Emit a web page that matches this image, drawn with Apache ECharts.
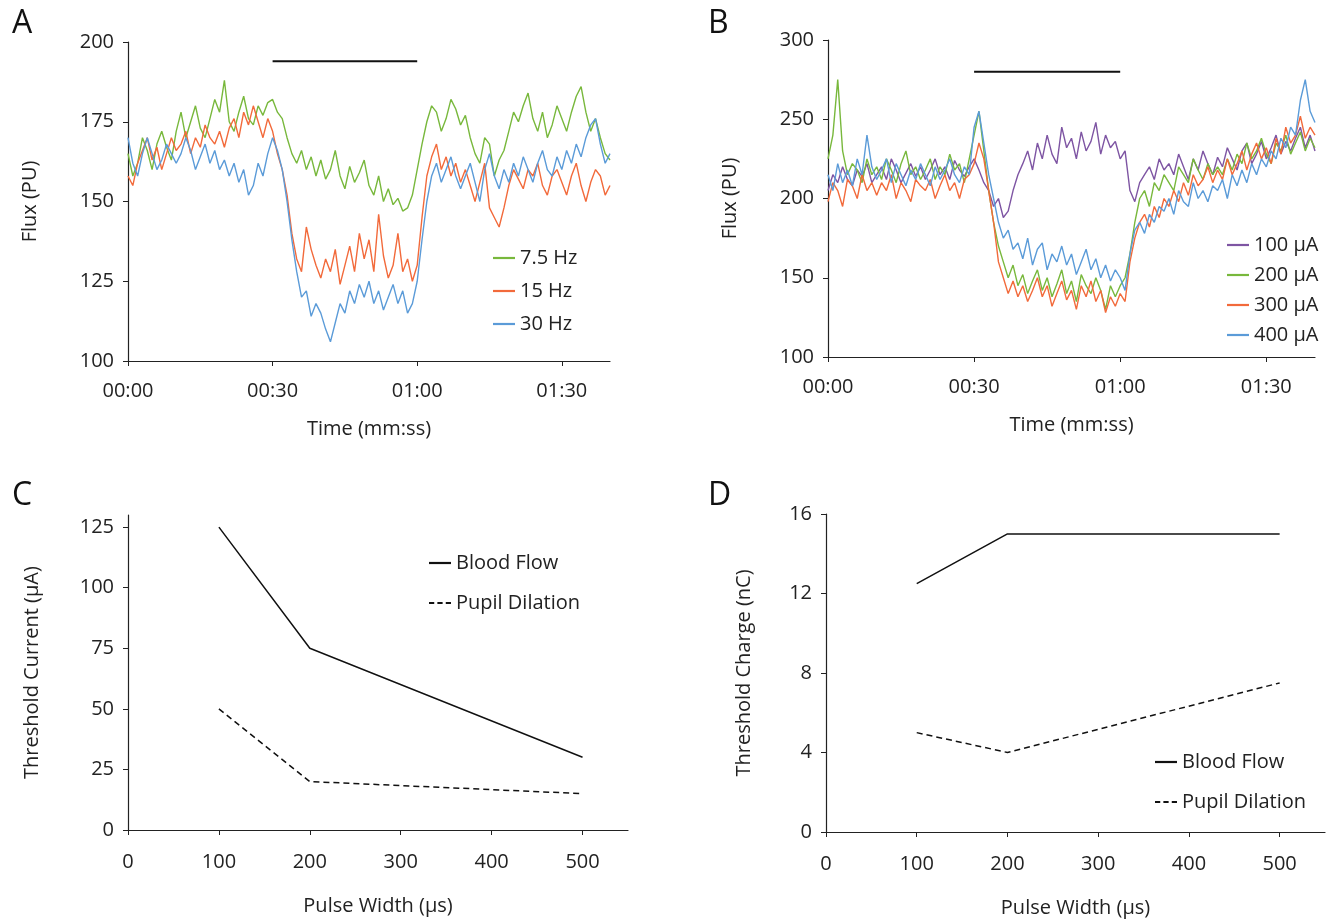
<!DOCTYPE html>
<html><head><meta charset="utf-8">
<script src="https://cdn.jsdelivr.net/npm/echarts@6/dist/echarts.min.js"></script>
<style>html,body{margin:0;background:#fff}#c{width:1341px;height:921px}</style>
</head><body><div id="c"></div>
<script>
// Panel A: flux traces, one sample per second, 0..100 s
const fluxA75 = [165,158,162,170,166,160,168,172,167,163,172,178,170,175,180,173,170,176,182,178,188,175,172,178,183,176,174,180,177,181,182,178,176,170,165,162,166,160,164,158,163,157,160,166,158,154,161,156,159,163,155,152,158,150,154,149,151,147,148,152,160,168,175,180,178,172,176,182,179,174,177,170,165,162,170,168,158,163,166,172,178,175,180,184,176,172,178,170,174,180,176,172,178,183,186,178,172,176,170,165,163];
const fluxA15 = [158,155,162,166,170,163,167,160,165,170,166,168,172,165,170,167,174,170,168,172,167,173,176,170,178,174,180,175,170,176,172,165,160,152,140,132,128,142,135,130,126,132,128,135,124,130,136,128,140,132,138,128,146,133,126,130,140,128,132,125,130,145,158,164,168,160,164,158,162,156,160,155,150,156,162,148,145,142,148,155,160,157,154,160,158,162,155,152,158,160,156,152,158,162,155,150,156,160,158,152,155];
const fluxA30 = [170,162,158,165,170,165,160,163,168,165,162,165,170,166,160,164,168,162,166,160,163,158,162,156,160,152,155,162,158,165,170,166,160,150,138,128,120,122,114,118,115,110,106,112,118,115,122,118,124,120,125,118,122,116,120,124,118,122,115,118,125,138,150,158,162,156,160,164,158,154,158,162,156,150,160,165,158,154,160,156,162,158,164,160,156,162,166,160,158,164,160,166,162,168,164,170,174,176,168,162,165];
// Panel B
const fluxB100 = [205,215,210,220,212,208,218,214,222,210,215,220,212,225,218,210,216,222,214,220,212,218,225,215,220,212,224,218,214,220,225,218,210,205,195,200,188,192,205,215,222,230,218,235,225,240,228,222,245,232,238,225,242,230,236,248,228,240,232,236,225,230,205,198,210,215,220,212,225,218,222,215,228,220,212,225,218,230,222,215,226,220,232,225,218,230,235,222,228,236,225,232,240,228,236,230,238,245,232,240,230];
const fluxB200 = [225,240,275,230,215,222,218,210,225,215,220,212,225,218,210,222,230,215,220,212,218,225,212,220,215,228,218,222,210,225,240,255,230,205,185,170,160,150,158,145,152,140,148,155,142,150,138,146,155,140,148,135,152,145,140,150,142,130,145,138,145,150,165,185,200,205,195,210,205,215,210,205,220,215,210,225,218,212,222,215,220,215,225,218,228,222,235,225,230,238,228,222,235,230,240,228,235,242,230,238,232];
const fluxB300 = [198,210,205,195,212,208,200,215,205,210,202,210,205,215,200,210,205,198,212,208,205,212,200,208,215,205,210,200,212,215,222,235,225,205,185,160,150,140,148,138,145,135,142,150,138,145,132,140,148,136,142,130,145,138,148,135,142,128,138,132,140,135,160,175,185,190,182,195,188,200,195,205,198,210,202,215,208,212,220,210,218,212,225,215,222,230,218,228,235,225,232,222,238,228,245,235,240,252,238,245,240];
const fluxB400 = [215,205,222,210,218,208,225,215,240,220,212,218,225,210,222,215,208,218,212,222,215,208,220,212,218,225,215,210,220,215,245,255,235,215,200,185,175,180,168,172,162,175,158,168,172,155,165,160,170,158,165,152,160,168,155,162,150,158,148,155,150,142,165,180,185,178,190,185,195,192,200,190,205,198,195,210,200,205,198,208,205,212,200,215,208,218,210,222,215,225,220,230,225,238,232,245,240,262,275,255,248];
const stimA = [[30,194],[60,194]];
const stimB = [[30,280],[60,280]];
// Panels C, D
const pulseWidths = [100,200,500];
const currBlood = [125,75,30];
const currPupil = [50,20,15];
const chargeBlood = [12.5,15,15];
const chargePupil = [5,4,7.5];

const pair = (xs, ys) => xs.map((x, i) => [x, ys[i]]);
const timed = ys => ys.map((y, i) => [i, y]);
const mmss = v => { const m = Math.floor(v / 60), s = v % 60; return String(m).padStart(2,'0') + ':' + String(s).padStart(2,'0'); };

const font = { fontFamily: 'Open Sans', fontSize: 20, color: '#222' };
const axLine = { show: true, lineStyle: { color: '#222', width: 1.2 } };
const axTick = { show: true, inside: false, length: 5, lineStyle: { color: '#222' } };

const xTime = i => ({ type: 'value', gridIndex: i, min: 0, max: 100, interval: 30, name: 'Time (mm:ss)', nameLocation: 'middle', nameGap: 58, nameTextStyle: font, axisLine: axLine, axisTick: axTick, splitLine: { show: false }, axisLabel: Object.assign({ formatter: mmss, showMaxLabel: false, margin: 20 }, font) });
const xPulse = i => ({ type: 'value', gridIndex: i, min: 0, max: 550, interval: 100, name: 'Pulse Width (µs)', nameLocation: 'middle', nameGap: 66, nameTextStyle: font, axisLine: axLine, axisTick: axTick, splitLine: { show: false }, axisLabel: Object.assign({ showMaxLabel: false, margin: 22 }, font) });
const yAx = (i, min, max, interval, name, gap, showMax) => ({ type: 'value', gridIndex: i, min, max, interval, name, nameLocation: 'middle', nameGap: gap, nameTextStyle: font, axisLine: axLine, axisTick: axTick, splitLine: { show: false }, axisLabel: Object.assign({ showMaxLabel: showMax, margin: 14 }, font) });

const trace = (name, data, color, xi) => ({ name, type: 'line', xAxisIndex: xi, yAxisIndex: xi, data: timed(data), showSymbol: false, lineStyle: { color, width: 1.4 }, itemStyle: { color } });
const bar = (data, xi) => ({ type: 'line', xAxisIndex: xi, yAxisIndex: xi, data, showSymbol: false, lineStyle: { color: '#111', width: 2 } });
const curve = (name, data, xi, dashed) => ({ name, type: 'line', xAxisIndex: xi, yAxisIndex: xi, data, showSymbol: false, lineStyle: { color: '#111', width: 1.5, type: dashed ? [6, 4] : 'solid' }, itemStyle: { color: '#111' } });

const lineIcon = 'path://M0,0H20V2H0Z';
const dashIcon = 'path://M0,0H5V2H0Z M8,0H13V2H8Z M16,0H21V2H16Z';
const legendBase = { orient: 'vertical', itemWidth: 22, itemHeight: 3, itemGap: 13, textStyle: font, icon: lineIcon };

const panelLabel = (text, left, top) => ({ type: 'text', left, top, style: { text, font: '32px "Open Sans"', fill: '#111' } });

const chart = echarts.init(document.getElementById('c'));
chart.setOption({
  animation: false,
  grid: [
    { left: 128, right: 731, top: 42, bottom: 560 },
    { left: 828, right: 26, top: 40, bottom: 564 },
    { left: 128, right: 713, top: 515, bottom: 91 },
    { left: 826, right: 16, top: 514, bottom: 89 }
  ],
  xAxis: [xTime(0), xTime(1), xPulse(2), xPulse(3)],
  yAxis: [
    yAx(0, 100, 200, 25, 'Flux (PU)', 88, true),
    yAx(1, 100, 300, 50, 'Flux (PU)', 88, true),
    yAx(2, 0, 130, 25, 'Threshold Current (µA)', 86, false),
    yAx(3, 0, 16, 4, 'Threshold Charge (nC)', 72, true)
  ],
  legend: [
    Object.assign({}, legendBase, { data: ['7.5 Hz', '15 Hz', '30 Hz'], left: 488, top: 243 }),
    Object.assign({}, legendBase, { data: ['100 µA', '200 µA', '300 µA', '400 µA'], left: 1222, top: 230, itemGap: 10 }),
    Object.assign({}, legendBase, { data: [{ name: 'Blood Flow', icon: lineIcon }, { name: 'Pupil Dilation', icon: dashIcon }], left: 424, top: 548, itemGap: 20 }),
    Object.assign({}, legendBase, { data: [{ name: 'Blood Flow ', icon: lineIcon }, { name: 'Pupil Dilation ', icon: dashIcon }], left: 1150, top: 747, itemGap: 20 })
  ],
  graphic: [panelLabel('A', 12, 8), panelLabel('B', 708, 8), panelLabel('C', 12, 480), panelLabel('D', 708, 480)],
  series: [
    trace('7.5 Hz', fluxA75, '#78b83c', 0),
    trace('15 Hz', fluxA15, '#f26a3b', 0),
    trace('30 Hz', fluxA30, '#5b9bd8', 0),
    bar(stimA, 0),
    trace('100 µA', fluxB100, '#7e55a3', 1),
    trace('200 µA', fluxB200, '#78b83c', 1),
    trace('300 µA', fluxB300, '#f26a3b', 1),
    trace('400 µA', fluxB400, '#5b9bd8', 1),
    bar(stimB, 1),
    curve('Blood Flow', pair(pulseWidths, currBlood), 2, false),
    curve('Pupil Dilation', pair(pulseWidths, currPupil), 2, true),
    curve('Blood Flow ', pair(pulseWidths, chargeBlood), 3, false),
    curve('Pupil Dilation ', pair(pulseWidths, chargePupil), 3, true)
  ]
});
</script>
</body></html>
